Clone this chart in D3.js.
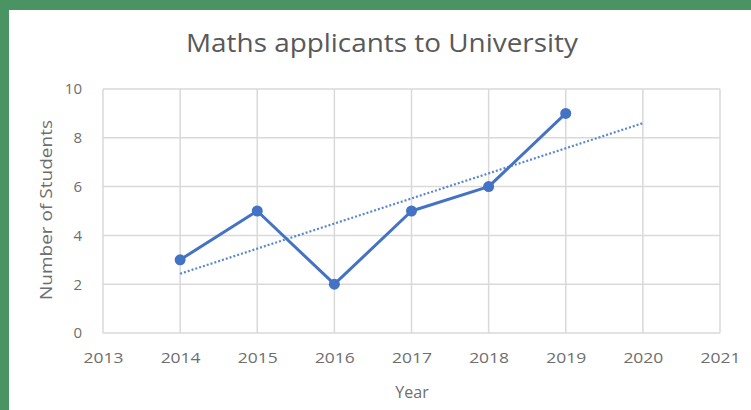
<!DOCTYPE html>
<html><head><meta charset="utf-8">
<script src="https://cdn.jsdelivr.net/npm/d3@7"></script>
<style>html,body{margin:0;padding:0;background:#fff;}</style>
</head><body>
<svg id="chart" width="751" height="410"></svg>
<script>
const years = [2014, 2015, 2016, 2017, 2018, 2019];
const students = [3, 5, 2, 5, 6, 9];
const xTicks = [2013, 2014, 2015, 2016, 2017, 2018, 2019, 2020, 2021];
const yTicks = [0, 2, 4, 6, 8, 10];
const trendForward = 1; // trendline forecast forward 1 period
const titleText = "Maths applicants to University";
const xLabel = "Year";
const yLabel = "Number of Students";

const svg = d3.select("#chart");
const W = 751, H = 410;
svg.append("rect").attr("x",0).attr("y",0).attr("width",W).attr("height",H).attr("fill","#4a9463");
svg.append("rect").attr("x",9).attr("y",10).attr("width",W-9).attr("height",H-10).attr("fill","#ffffff");

const m = {left:103, right:720, top:89, bottom:333};
const x = d3.scaleLinear().domain([2013, 2021]).range([m.left, m.right]);
const y = d3.scaleLinear().domain([0, 10]).range([m.bottom, m.top]);

const font = "'Open Sans', sans-serif";
const grid = svg.append("g");
grid.selectAll("line.h").data(yTicks).join("line")
  .attr("x1", m.left).attr("x2", m.right)
  .attr("y1", d=>y(d)).attr("y2", d=>y(d))
  .attr("stroke","#d9d9d9").attr("stroke-width",1.5);
grid.selectAll("line.v").data(xTicks).join("line")
  .attr("y1", m.top).attr("y2", m.bottom)
  .attr("x1", d=>x(d)).attr("x2", d=>x(d))
  .attr("stroke","#d9d9d9").attr("stroke-width",1.5);

// axes
const xAxis = d3.axisBottom(x).tickValues(xTicks).tickFormat(d3.format("d")).tickSize(0).tickPadding(19);
const gx = svg.append("g").attr("transform",`translate(0,${m.bottom})`).call(xAxis);
gx.select(".domain").remove();
gx.selectAll("text").attr("fill","#6e6e6e").style("font-family",font).style("font-size","15px")
  .attr("textLength",40).attr("lengthAdjust","spacingAndGlyphs");

const yAxis = d3.axisLeft(y).tickValues(yTicks).tickSize(0).tickPadding(21);
const gy = svg.append("g").attr("transform",`translate(${m.left},0)`).call(yAxis);
gy.select(".domain").remove();
gy.selectAll("text").attr("fill","#6e6e6e").style("font-family",font).style("font-size","15px");

// trendline via least squares
const n = years.length;
const mx = d3.mean(years), my = d3.mean(students);
const slope = d3.sum(years.map((v,i)=>(v-mx)*(students[i]-my))) / d3.sum(years.map(v=>(v-mx)*(v-mx)));
const icpt = my - slope*mx;
const tx0 = years[0], tx1 = years[n-1] + trendForward;
svg.append("line")
  .attr("x1", x(tx0)).attr("y1", y(icpt + slope*tx0))
  .attr("x2", x(tx1)).attr("y2", y(icpt + slope*tx1))
  .attr("stroke","#5b87cc").attr("stroke-width",2.2).attr("stroke-dasharray","2,2");

const data = years.map((v,i)=>({x:v, y:students[i]}));
svg.append("path").datum(data)
  .attr("d", d3.line().x(d=>x(d.x)).y(d=>y(d.y)))
  .attr("fill","none").attr("stroke","#4472c4").attr("stroke-width",3).attr("stroke-linejoin","round");
svg.selectAll("circle.pt").data(data).join("circle")
  .attr("cx", d=>x(d.x)).attr("cy", d=>y(d.y)).attr("r",5.5).attr("fill","#4472c4");

svg.append("text").attr("x",382).attr("y",52).attr("text-anchor","middle")
  .attr("fill","#595959").style("font-family",font).style("font-size","25px")
  .attr("textLength",392).attr("lengthAdjust","spacingAndGlyphs").text(titleText);
svg.append("text").attr("x",412).attr("y",398).attr("text-anchor","middle")
  .attr("fill","#6e6e6e").style("font-family",font).style("font-size","16px").text(xLabel);
svg.append("text").attr("transform",`translate(52,${(m.top+m.bottom)/2 - 1}) rotate(-90)`).attr("text-anchor","middle")
  .attr("fill","#6e6e6e").style("font-family",font).style("font-size","17px")
  .attr("textLength",180).attr("lengthAdjust","spacingAndGlyphs").text(yLabel);
</script>
</body></html>
